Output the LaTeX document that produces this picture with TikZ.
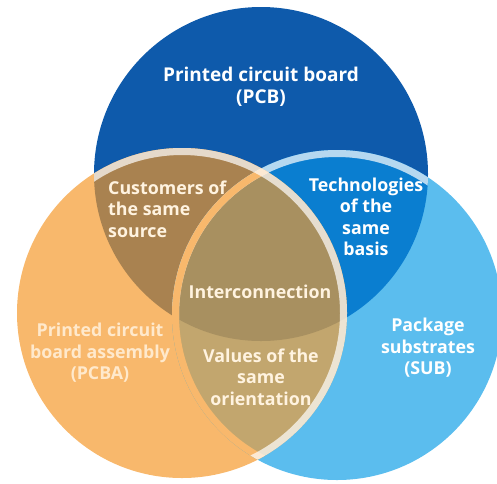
\documentclass[tikz,border=0pt]{standalone}
\usepackage{fontspec}
\setmainfont{Open Sans}
\definecolor{pcb}{HTML}{0E5AAB}
\definecolor{pcba}{HTML}{F8B86C}
\definecolor{sub}{HTML}{5BBDEE}
\definecolor{pcbpcba}{HTML}{A98250}
\definecolor{pcbsub}{HTML}{0A7ED0}
\definecolor{pcbasub}{HTML}{C2A66E}
\definecolor{triple}{HTML}{A89060}
\definecolor{cream}{HTML}{FFF3E0}
\definecolor{paletext}{HTML}{FFE9CC}
\tikzset{
  lbl/.style={inner sep=0pt, align=center, font=\bfseries\fontsize{17.8}{21.5}\selectfont, text=white},
  band/.style={line width=7pt},
}
\begin{document}
\begin{tikzpicture}[x=1pt,y=-1pt]
\useasboundingbox (0,0) rectangle (497,483);
\def\cA{(261,174) circle [radius=167pt]}
\def\cB{(182,313) circle [radius=165pt]}
\def\cC{(337,315) circle [radius=165pt]}
% base fills
\fill[pcb] \cA;
\fill[pcba] \cB;
\fill[sub] \cC;
\begin{scope}\clip \cA; \fill[pcbpcba] \cB; \end{scope}
\begin{scope}\clip \cA; \fill[pcbsub] \cC; \end{scope}
\begin{scope}\clip \cB; \fill[pcbasub] \cC; \end{scope}
\begin{scope}\clip \cA; \clip \cB; \fill[triple] \cC; \end{scope}
% bands of SUB circle
\begin{scope}\clip \cA;
  \draw[band, white, opacity=0.7] (337,315) circle [radius=161.5pt];
\end{scope}
\begin{scope}\clip \cB;
  \draw[band, pcba] (337,315) circle [radius=161.5pt];
\end{scope}
% bands of PCBA circle
\begin{scope}\clip (261,174) circle [radius=167pt] (337,315) circle [radius=165pt];
  \draw[band, white, opacity=0.7] (182,313) circle [radius=161.5pt];
\end{scope}
% labels
\node[lbl, font=\bfseries\fontsize{19}{22}\selectfont] (pcbl) at (261,87) {Printed circuit board\\(PCB)};
\node[lbl, align=left, anchor=west, text=cream] (cust) at (108,209) {Customers of\\the same\\source};
\node[lbl] (tech) at (366,217) {Technologies\\of the\\same\\basis};
\node[lbl, text=cream] (inter) at (260,292) {Interconnection};
\node[lbl, text=paletext] (pcbal) at (100,353) {Printed circuit\\board assembly\\(PCBA)};
\node[lbl, text=cream] (val) at (261,377) {Values of the\\same\\orientation};
\node[lbl] (subl) at (428,348) {Package\\substrates\\(SUB)};
\end{tikzpicture}
\end{document}
